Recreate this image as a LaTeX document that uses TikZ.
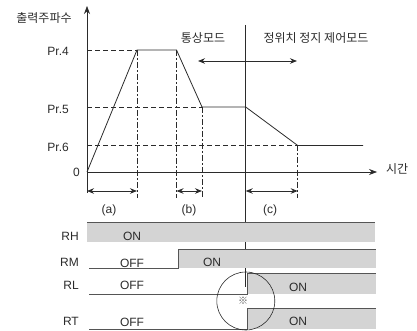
\documentclass[tikz,border=0pt]{standalone}
\usepackage{fontspec}
\setmainfont{Liberation Sans}
\newfontfamily\kor{Noto Sans CJK KR}
\usetikzlibrary{arrows.meta,positioning}
\definecolor{ChartInk}{HTML}{2B2B2B}
\definecolor{SigInk}{HTML}{555555}
\definecolor{SigFill}{HTML}{D4D4D4}
\tikzset{
  axis/.style={draw=ChartInk,line width=0.7pt,-{Stealth[length=8pt,width=6pt]}},
  guide/.style={draw=ChartInk,line width=0.6pt,dash pattern=on 5pt off 3pt},
  marker/.style={draw=ChartInk,line width=0.6pt,dash pattern=on 6pt off 2pt on 2pt off 2pt},
  curve/.style={draw=ChartInk,line width=0.8pt},
  span/.style={draw=ChartInk,line width=0.8pt,{Stealth[length=7pt,width=5.5pt]}-{Stealth[length=7pt,width=5.5pt]}},
  sig/.style={draw=SigInk,line width=0.8pt},
  sigfill/.style={fill=SigFill,draw=none},
  lvl/.style={font=\fontsize{12}{13}\selectfont,text=ChartInk,inner sep=0pt},
  mode/.style={font=\kor\fontsize{12}{14}\selectfont,text=ChartInk,inner sep=0pt}
}
% relay row: switch x, high y, low y
\newcommand{\relayrow}[3]{%
  \fill[sigfill] (#1,#2) rectangle (376,#3);
  \draw[sig] (89,#3) -| (#1,#2) -- (376,#2);
}

\begin{document}
\begin{tikzpicture}[x=1pt,y=-1pt]
  \useasboundingbox (0,0) rectangle (417,331);

  % axes
  \coordinate (o) at (87,172);
  \coordinate (ytop) at (87,6);
  \coordinate (xend) at (377,172);
  \draw[axis] (87,193) -- (ytop);
  \draw[axis] (o) -- (xend);
  \node[mode] (fq) at (44,18) {출력주파수};
  \node[mode,anchor=west] (tm) at (386,169) {시간};

  % levels
  \node[lvl,anchor=east] (pr4) at (69,51) {Pr.4};
  \node[lvl,anchor=east] (pr5) at (69,109) {Pr.5};
  \node[lvl,anchor=east] (pr6) at (69,147) {Pr.6};
  \node[lvl,anchor=east] (zero) at (80,172) {0};

  % speed profile
  \coordinate (p1) at (137,50);
  \coordinate (p2) at (176.5,50);
  \coordinate (p3) at (202,107);
  \coordinate (p4) at (245.7,107);
  \coordinate (p5) at (297.7,145.5);
  \coordinate (p6) at (363,145.5);
  \draw[curve] (o) -- (p1) -- (p2) -- (p3) -- (p4) -- (p5) -- (p6);
  \draw[guide] (87,50) -- (p1);
  \draw[guide] (87,107) -- (p3);
  \draw[guide] (87,145.5) -- (p5);
  \foreach \p in {p1,p2,p3,p5}
    \draw[marker] (\p) -- (\p |- 0,198);

  % mode switch
  \coordinate (sw) at (245.7,25);
  \draw[curve] (sw) -- (245.7,287);
  \draw[span] (198,61) -- (297,61);
  \node[mode] (norm) at (203,38) {통상모드};
  \node[mode] (posn) at (316,38) {정위치 정지 제어모드};

  % time spans
  \draw[span] (87,191) -- (137,191);
  \draw[span] (176.5,191) -- (202,191);
  \draw[span] (245.7,191) -- (297.7,191);
  \node[lvl] (ta) at (109,210) {(a)};
  \node[lvl] (tb) at (189,210) {(b)};
  \node[lvl] (tc) at (270,210) {(c)};

  % relay signals
  \fill[sigfill] (87,222) rectangle (375,242);
  \draw[sig] (87,222) -- (375,222);
  \relayrow{178}{249}{268}
  \relayrow{247}{273}{294}
  \relayrow{247}{308}{329}

  \node[lvl,anchor=east] (rh) at (79,236) {RH};
  \node[lvl,anchor=east] (rm) at (79,262) {RM};
  \node[lvl,anchor=east] (rl) at (79,285) {RL};
  \node[lvl,anchor=east] (rt) at (79,321) {RT};
  \node[lvl] (rhon) at (132,236) {ON};
  \node[lvl] (rmoff) at (132,263) {OFF};
  \node[lvl] (rmon) at (212,262) {ON};
  \node[lvl] (rloff) at (132,285) {OFF};
  \node[lvl] (rlon) at (298,287) {ON};
  \node[lvl] (rtoff) at (132,322) {OFF};
  \node[lvl] (rton) at (298,321) {ON};

  % note mark
  \draw[draw=ChartInk,line width=0.6pt] (245.8,301) circle[radius=29pt];
  \node[mode,font=\kor\fontsize{10}{11}\selectfont,text=SigInk] (note) at (243,301) {※};
\end{tikzpicture}
\end{document}
